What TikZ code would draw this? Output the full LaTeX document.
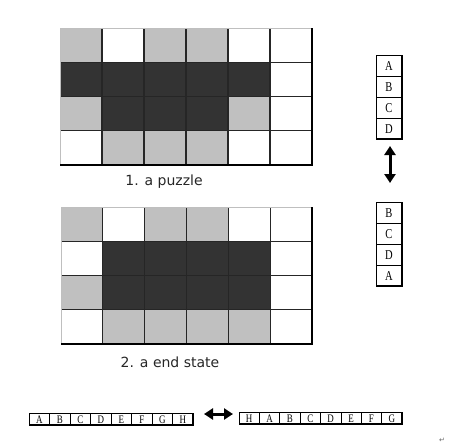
\documentclass[tikz,border=0pt]{standalone}
\usepackage{fontspec}
\setmainfont{Liberation Serif}
\newfontfamily\labfont{DejaVu Sans}
\newfontfamily\symfont{DejaVu Sans}
\usetikzlibrary{arrows.meta}
\definecolor{lg}{HTML}{C0C0C0}
\definecolor{dk}{HTML}{333333}
\newcommand{\narrowtxt}[1]{\scalebox{0.78}[1]{#1}}
\tikzset{
  cellline/.style={draw=black!85, line width=1.1pt},
  shadowline/.style={draw=black, line width=2pt},
  lightline/.style={draw=black!25, line width=0.6pt},
  caption/.style={font=\labfont\fontsize{14}{16}\selectfont, text=black!85, inner sep=0pt},
  letter/.style={font=\fontsize{13.5}{13.5}\selectfont, inner sep=0pt},
  sletter/.style={font=\fontsize{11.5}{11.5}\selectfont, inner sep=0pt},
  dblarrow/.style={line width=3pt, {Triangle[width=11pt,length=9pt]}-{Triangle[width=11pt,length=9pt]}},
}
\begin{document}
\begin{tikzpicture}[x=1pt,y=-1pt]
\useasboundingbox (0,0) rectangle (450,444);
% ---------- grid 1 ----------
\def\gx{60}\def\gy{28}\def\cw{42}\def\ch{34.25}
\foreach \row [count=\r from 0] in {{1,0,1,1,0,0},{2,2,2,2,2,0},{1,2,2,2,1,0},{0,1,1,1,0,0}}{
  \foreach \v [count=\c from 0] in \row {
    \ifnum\v=1 \fill[lg] (\gx+\c*\cw,\gy+\r*\ch) rectangle ++(\cw,\ch);\fi
    \ifnum\v=2 \fill[dk] (\gx+\c*\cw,\gy+\r*\ch) rectangle ++(\cw,\ch);\fi
  }
}
\foreach \c in {1,...,5} \draw[cellline] (\gx+\c*\cw,\gy) -- ++(0,4*\ch);
\foreach \r in {1,2,3} \draw[cellline] (\gx,\gy+\r*\ch) -- ++(6*\cw,0);
\draw[lightline] (\gx,\gy+4*\ch) -- (\gx,\gy) -- (\gx+6*\cw,\gy);
\draw[shadowline] (\gx,\gy+4*\ch) -- (\gx+6*\cw,\gy+4*\ch) -- (\gx+6*\cw,\gy);
\node[caption] (cap1) at (164,182) {1. a puzzle};
% ---------- grid 2 ----------
\def\gx{61}\def\gy{207}\def\cw{41.83}\def\ch{34.25}
\foreach \row [count=\r from 0] in {{1,0,1,1,0,0},{0,2,2,2,2,0},{1,2,2,2,2,0},{0,1,1,1,1,0}}{
  \foreach \v [count=\c from 0] in \row {
    \ifnum\v=1 \fill[lg] (\gx+\c*\cw,\gy+\r*\ch) rectangle ++(\cw,\ch);\fi
    \ifnum\v=2 \fill[dk] (\gx+\c*\cw,\gy+\r*\ch) rectangle ++(\cw,\ch);\fi
  }
}
\foreach \c in {1,...,5} \draw[cellline] (\gx+\c*\cw,\gy) -- ++(0,4*\ch);
\foreach \r in {1,2,3} \draw[cellline] (\gx,\gy+\r*\ch) -- ++(6*\cw,0);
\draw[lightline] (\gx,\gy+4*\ch) -- (\gx,\gy) -- (\gx+6*\cw,\gy);
\draw[shadowline] (\gx,\gy+4*\ch) -- (\gx+6*\cw,\gy+4*\ch) -- (\gx+6*\cw,\gy);
\node[caption] (cap2) at (170,362) {2. a end state};
% ---------- vertical boxes ----------
\foreach \name/\yy/\letters in {va/55/{A,B,C,D}, vb/202/{B,C,D,A}}{
  \foreach \L [count=\i from 0] in \letters {
    \node[letter] (\name\i) at (389,\yy+\i*21+11) {\narrowtxt{\L}};
  }
  \foreach \i in {1,2,3} \draw[black, line width=0.8pt] (376,\yy+\i*21) -- (402,\yy+\i*21);
  \draw[black, line width=0.8pt] (376,\yy+84) -- (376,\yy) -- (402,\yy);
  \draw[black, line width=2pt] (376,\yy+84) -- (402,\yy+84) -- (402,\yy-0.4);
}
\coordinate (vt) at (390,146);
\coordinate (vbm) at (390,183);
\draw[dblarrow] (vt) -- (vbm);
% ---------- horizontal boxes ----------
\foreach \name/\xx/\yy/\cw/\letters in {ha/29/413/20.5/{A,B,C,D,E,F,G,H}, hb/239/412/20.375/{H,A,B,C,D,E,F,G}}{
  \foreach \L [count=\i from 0] in \letters {
    \node[sletter] (\name\i) at (\xx+\i*\cw+0.5*\cw,\yy+6.8) {\narrowtxt{\L}};
  }
  \foreach \i in {1,...,7} \draw[black, line width=0.6pt] (\xx+\i*\cw,\yy) -- (\xx+\i*\cw,\yy+12);
  \draw[black, line width=0.6pt] (\xx,\yy+12) -- (\xx,\yy) -- (\xx+8*\cw,\yy);
  \draw[black, line width=1.8pt] (\xx,\yy+12) -- (\xx+8*\cw,\yy+12) -- (\xx+8*\cw,\yy-0.3);
}
\coordinate (hl) at (204,414);
\coordinate (hr) at (233,414);
\draw[dblarrow] (hl) -- (hr);
\node[font=\symfont\fontsize{7}{7}\selectfont, text=black!60, inner sep=0pt] (pm) at (442,440) {↵};
\end{tikzpicture}
\end{document}
